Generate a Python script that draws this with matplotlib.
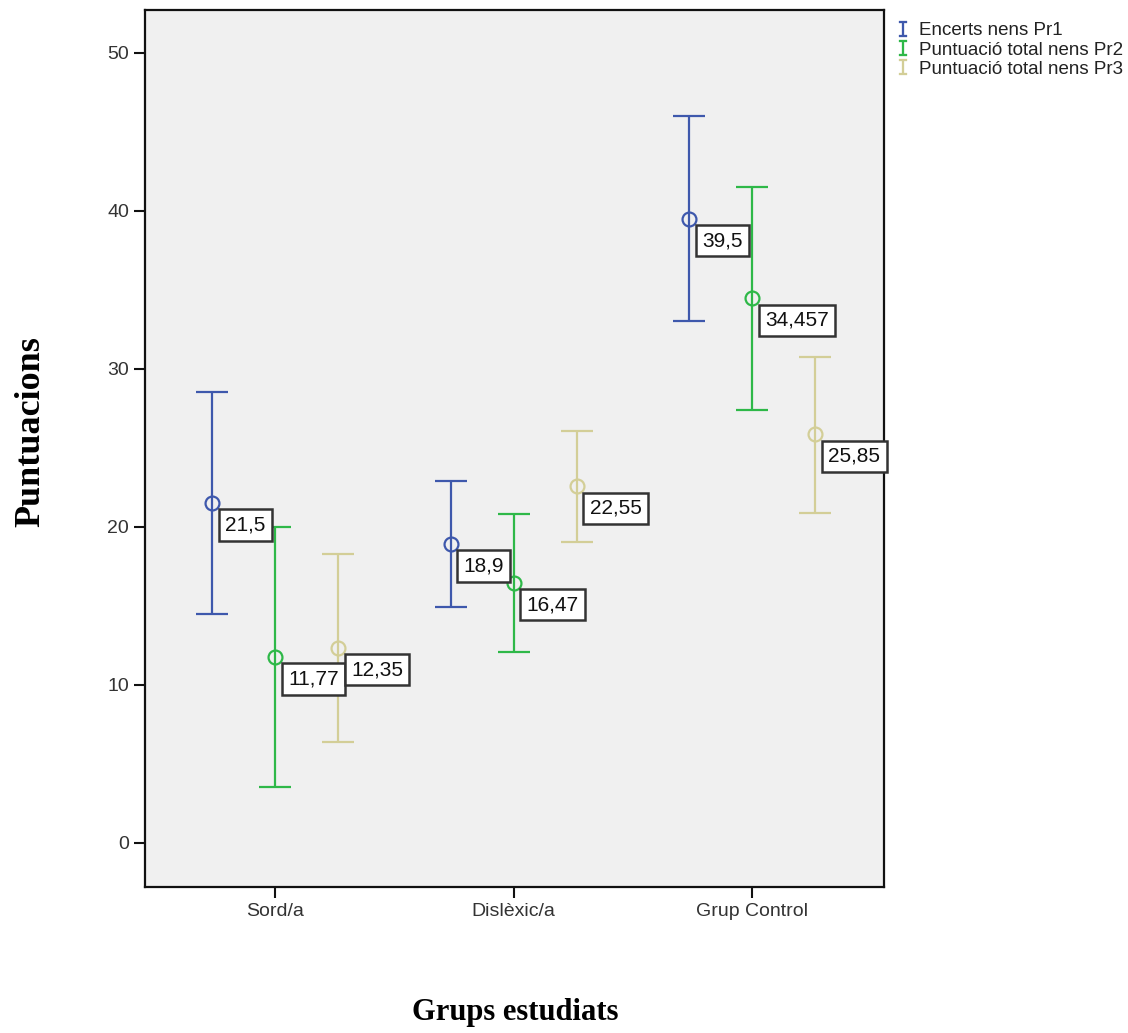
import numpy as np
import matplotlib.pyplot as plt
from matplotlib.lines import Line2D

groups = ["Sord/a", "Dislèxic/a", "Grup Control"]
series = ["Encerts nens Pr1", "Puntuació total nens Pr2", "Puntuació total nens Pr3"]

# means and 95% CI bounds per series (Sord/a, Dislèxic/a, Grup Control)
means = [
    [21.5, 18.9, 39.5],
    [11.77, 16.47, 34.457],
    [12.35, 22.55, 25.85],
]
lower = [
    [14.5, 14.9, 33.0],
    [3.5, 12.1, 27.4],
    [6.4, 19.05, 20.9],
]
upper = [
    [28.5, 22.9, 46.0],
    [20.0, 20.8, 41.5],
    [18.3, 26.05, 30.75],
]
labels = [
    ["21,5", "18,9", "39,5"],
    ["11,77", "16,47", "34,457"],
    ["12,35", "22,55", "25,85"],
]

colors = ["#3e58ac", "#2eb848", "#d3ce97"]
offsets = [-0.264, 0.0, 0.264]

fig = plt.figure(figsize=(11.28, 10.33), dpi=100)
ax = fig.add_axes([0.1285, 0.1413, 0.7837 - 0.1285, 0.9903 - 0.1413])
ax.set_facecolor("#f0f0f0")

x = np.arange(len(groups))
for i in range(3):
    m = np.array(means[i])
    lo = m - np.array(lower[i])
    hi = np.array(upper[i]) - m
    ax.errorbar(x + offsets[i], m, yerr=[lo, hi], fmt="o", color=colors[i],
                mfc="none", mec=colors[i], ms=10, mew=1.6, elinewidth=1.6,
                capsize=11.5, capthick=1.6)
    for j in range(3):
        ax.annotate(labels[i][j], (x[j] + offsets[i], m[j]),
                    xytext=(9.5, -9), textcoords="offset points",
                    ha="left", va="top", fontsize=15, family="Liberation Sans",
                    color="#111111",
                    bbox=dict(boxstyle="square,pad=0.3", fc="white",
                              ec="#333333", lw=1.8))

ax.set_xlim(-0.545, 2.553)
ax.set_ylim(-2.8, 52.7)
ax.set_xticks(x)
ax.set_xticklabels(groups)
ax.set_yticks([0, 10, 20, 30, 40, 50])
ax.tick_params(direction="out", length=8, width=1.5, colors="#111111",
               labelsize=14, labelcolor="#333333")
for lab in ax.get_xticklabels() + ax.get_yticklabels():
    lab.set_family("Liberation Sans")
for sp in ax.spines.values():
    sp.set_linewidth(1.6)
    sp.set_color("#111111")

fig.text(0.457, 0.02, "Grups estudiats", ha="center", va="center",
         fontsize=22, fontweight="bold", family="Liberation Serif")
fig.text(0.027, 0.582, "Puntuacions", ha="center", va="center", rotation=90,
         fontsize=26, fontweight="bold", family="Liberation Serif")

handles = [Line2D([], [], linestyle="none", marker=r"$\mathtt{I}$", ms=11,
                  mew=0.2, color=c) for c in colors]
fig.legend(handles, series, loc="upper left",
           bbox_to_anchor=(0.779, 0.995), frameon=False,
           prop={"family": "Liberation Sans", "size": 13.5},
           handlelength=0.8, handletextpad=0.45, labelspacing=0.12,
           labelcolor="#222222")

fig.savefig("out.png", dpi=100)
